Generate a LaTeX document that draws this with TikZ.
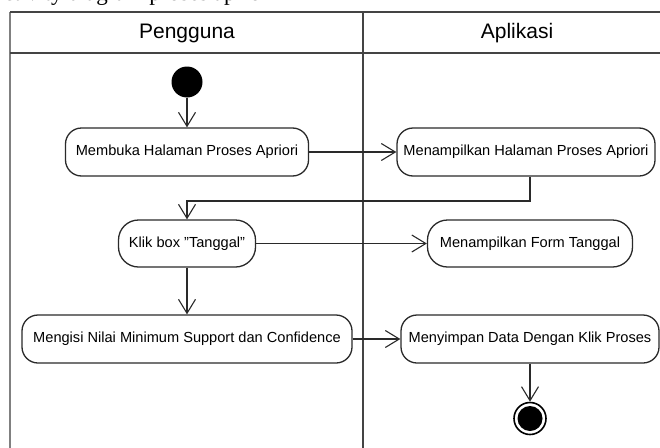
\documentclass[tikz,border=0pt]{standalone}
\usepackage{fontspec}
\setmainfont{Liberation Sans}
\newfontfamily\capfont{Liberation Serif}
\usetikzlibrary{arrows.meta}
\definecolor{lanegray}{HTML}{444444}
\definecolor{linegray}{HTML}{2A2A2A}
\tikzset{
  act/.style={draw=linegray, line width=1.3pt, rounded corners=16pt, minimum height=48pt,
    inner sep=0pt, align=center, font=\fontsize{14.6}{16}\selectfont, fill=white},
  arr/.style={draw=linegray, line width=1.3pt, -{Straight Barb[length=14pt,width=17pt,line width=1.1pt]}},
  lane/.style={draw=lanegray, line width=1.6pt},
  hdr/.style={font=\fontsize{21}{24}\selectfont, inner sep=0pt},
}
\begin{document}
\begin{tikzpicture}[x=1pt,y=-1pt]
\useasboundingbox (0,0) rectangle (660,447);
\clip (0,0) rectangle (660,447);
\fill[white] (0,0) rectangle (660,447);
% cropped caption
\node[anchor=base west, inner sep=0pt, font=\capfont\fontsize{23}{26}\selectfont] (cap) at (-13,0) {Activity diagram proses apriori};
% swimlanes
\draw[lane, draw=gray] (10,12) -- (10,450);
\draw[lane] (10,12) -- (670,12);
\draw[lane] (10,53) -- (670,53);
\draw[lane] (363,12) -- (363,450);
\node[hdr] (h1) at (187,33) {Pengguna};
\node[hdr] (h2) at (517,33) {Aplikasi};
% start
\node[circle, fill=black, minimum size=31pt, inner sep=0pt] (start) at (187,82) {};
% activities
\node[act, minimum width=243pt] (n1) at (187,152) {Membuka Halaman Proses Apriori};
\node[act, minimum width=258pt] (n2) at (526,152) {Menampilkan Halaman Proses Apriori};
\node[act, minimum width=137pt, minimum height=47pt, rounded corners=20pt] (n3) at (187,243.5) {Klik box "Tanggal"};
\node[act, minimum width=205pt, minimum height=47pt, rounded corners=20pt] (n4) at (530,243.5) {Menampilkan Form Tanggal};
\node[act, minimum width=330pt] (n5) at (187,339) {Mengisi Nilai Minimum Support dan Confidence};
\node[act, minimum width=258pt] (n6) at (530,339) {Menyimpan Data Dengan Klik Proses};
% end
\node[circle, draw=black, line width=1.6pt, fill=white, minimum size=32pt, inner sep=0pt] (end) at (530,418.5) {};
\node[circle, fill=black, minimum size=25pt, inner sep=0pt] (endin) at (end.center) {};
% flows
\coordinate (b1) at (530,201);
\draw[arr] (start) -- (n1);
\draw[arr] (n1) -- (n2);
\draw[arr] (b1 |- n2.south) -- (b1) -| (n3.north);
\draw[arr] (n3) -- (n4);
\draw[arr] (n3) -- (n5);
\draw[arr] (n5) -- (n6);
\draw[arr] (n6) -- (end);
\end{tikzpicture}
\end{document}
